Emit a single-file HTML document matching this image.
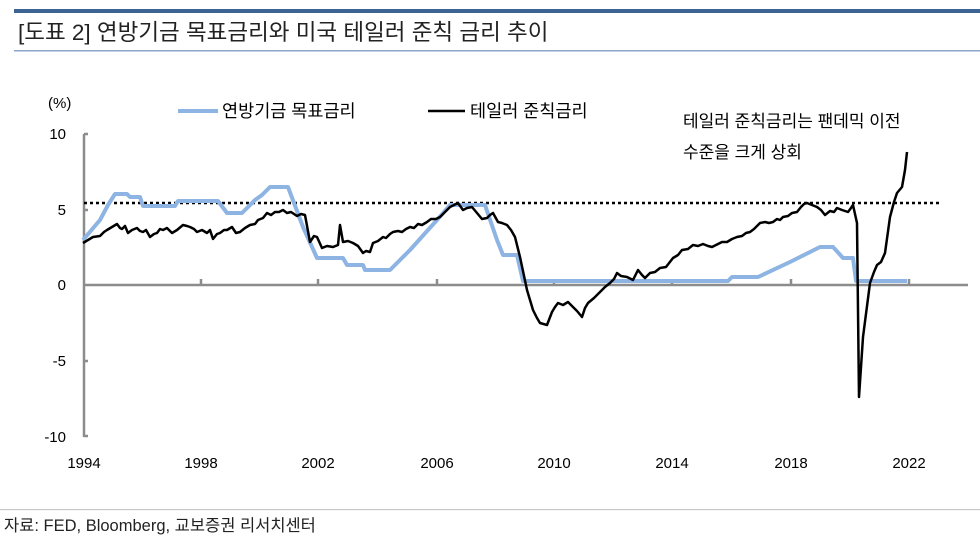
<!DOCTYPE html>
<html><head><meta charset="utf-8"><style>
body{margin:0;width:980px;height:545px;background:#fff;overflow:hidden;font-family:"Liberation Sans","Noto Sans CJK KR",sans-serif}
</style></head><body>
<svg width="980" height="545" xmlns="http://www.w3.org/2000/svg" style="position:absolute;left:0;top:0">
<rect x="14" y="9" width="966" height="4" fill="#3d6594"/>
<rect x="14" y="50" width="966" height="1.5" fill="#8ba6cc"/>
<text x="18" y="40" font-size="22.5" fill="#222" font-family="Liberation Sans,Noto Sans CJK KR,sans-serif">[도표 2] 연방기금 목표금리와 미국 테일러 준칙 금리 추이</text>
<rect x="0" y="509" width="980" height="1.2" fill="#c8c8c8"/>
<text x="4" y="531" font-size="16.5" fill="#222">자료: FED, Bloomberg, 교보증권 리서치센터</text>
<g font-size="15" fill="#000" text-anchor="end">
<text x="66" y="139">10</text><text x="66" y="215">5</text><text x="66" y="290">0</text><text x="66" y="366">-5</text><text x="66" y="442">-10</text>
</g>
<text x="48" y="108" font-size="15">(%)</text>
<g font-size="15" text-anchor="middle">
<text x="84" y="468">1994</text><text x="201" y="468">1998</text><text x="318" y="468">2002</text><text x="437" y="468">2006</text><text x="554" y="468">2010</text><text x="672" y="468">2014</text><text x="791" y="468">2018</text><text x="909" y="468">2022</text>
</g>
<g stroke="#8c8c8c" stroke-width="2.5" fill="none">
<line x1="84" y1="134" x2="84" y2="437"/>
<line x1="84" y1="285" x2="968" y2="285"/>
<path d="M84 134h4M84 210h4M84 361h4M84 436h4M201 285v-6M318 285v-6M437 285v-6M554 285v-6M672 285v-6M791 285v-6M909 285v-6"/>
</g>
<line x1="84" y1="203" x2="940" y2="203" stroke="#000" stroke-width="2.5" stroke-dasharray="3,3"/>
<polyline fill="none" stroke="#8db4e2" stroke-width="4" stroke-linejoin="round" points="83,240 100,220 108,205 115,194 127,194 130,197 140,197 143,206 175,206 178,201 218,201 227,213 242,213 255,200 262,195 270,187 288,187 303,227 317,258 343,258 347,265 363,265 365,270 390,270 410,250 437,220 450,205 485,205 497,240 503,255 517,255 523,281 728,281 732,277 758,277 790,262 820,247 833,247 843,258 853,258 856,281 907,281"/>
<polyline fill="none" stroke="#000" stroke-width="2.5" stroke-linejoin="round" points="83,243 88,240 93,237 100,236 104,232 107,230 112,227 117,224 120,228 122,229 125,226 128,233 132,230 137,228 140,231 143,232 146,230 150,237 154,234 157,233 160,229 163,230 167,228 172,233 177,230 183,225 187,226 190,227 194,229 197,232 202,230 207,233 210,230 213,239 217,234 220,233 224,230 227,230 232,227 236,233 240,232 245,228 250,225 255,224 258,220 263,218 267,213 271,215 275,212 279,212 283,210 287,213 291,212 297,216 301,214 305,215 310,242 314,236 317,237 322,248 327,246 333,247 338,245 340,225 343,242 348,241 353,243 358,246 363,253 366,251 370,252 373,243 378,241 383,237 386,238 390,234 393,232 398,231 402,232 406,229 410,227 414,228 418,224 422,225 427,222 431,219 436,219 440,217 445,212 450,207 454,205 458,203 463,210 467,208 472,207 477,213 482,219 487,218 490,215 493,213 498,222 502,223 507,225 511,230 515,237 520,257 527,290 533,310 537,318 540,323 547,325 552,312 555,307 558,303 563,305 568,302 572,306 577,311 582,317 585,308 588,303 594,298 600,292 605,287 610,283 614,279 617,273 621,276 627,277 633,280 638,270 642,275 645,278 650,273 655,272 660,268 666,267 673,258 678,255 682,250 688,249 693,245 698,246 703,244 708,246 712,247 718,244 722,242 727,242 732,239 737,237 742,236 746,233 750,232 754,229 757,226 760,223 765,222 769,223 773,222 777,219 780,220 783,217 788,216 792,213 797,212 801,207 804,204 807,203 812,205 817,207 821,210 825,215 830,211 834,212 837,208 842,210 848,212 851,208 853,205 857,223 859,397 863,337 870,283 874,272 877,265 881,262 885,253 890,217 894,202 897,193 902,187 905,170 907,152"/>
<line x1="178" y1="111" x2="218" y2="111" stroke="#8db4e2" stroke-width="4"/>
<text x="222" y="117" font-size="17.5">연방기금 목표금리</text>
<line x1="428" y1="111" x2="465" y2="111" stroke="#000" stroke-width="2.5"/>
<text x="470" y="117" font-size="17.5">테일러 준칙금리</text>
<text x="683" y="127" font-size="17">테일러 준칙금리는 팬데믹 이전</text>
<text x="683" y="158" font-size="17">수준을 크게 상회</text>
</svg>
</body></html>
